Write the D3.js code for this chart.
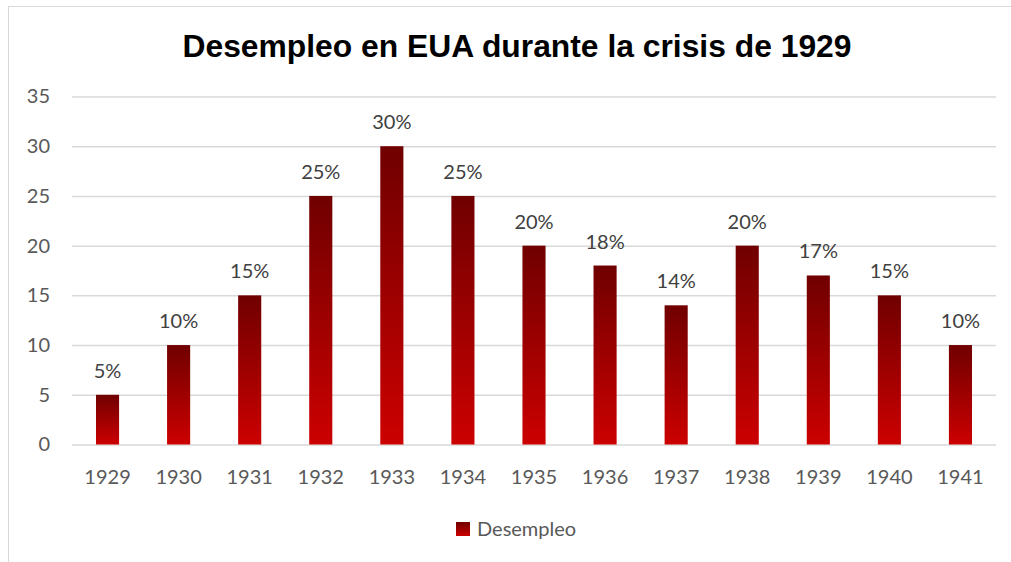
<!DOCTYPE html>
<html><head><meta charset="utf-8">
<script src="https://cdn.jsdelivr.net/npm/d3@7"></script>
<style>body{margin:0;background:#fff;}svg{display:block;}</style>
</head><body>
<script>
const years = ["1929","1930","1931","1932","1933","1934","1935","1936","1937","1938","1939","1940","1941"];
const unemployment = [5,10,15,25,30,25,20,18,14,20,17,15,10];
const yTicks = [0,5,10,15,20,25,30,35];
const seriesName = "Desempleo";
const title = "Desempleo en EUA durante la crisis de 1929";

const W = 1011, H = 562;
const svg = d3.select("body").append("svg").attr("width", W).attr("height", H);
const defs = svg.append("defs");
const grad = defs.append("linearGradient").attr("id","g").attr("x1",0).attr("y1",0).attr("x2",0).attr("y2",1);
grad.append("stop").attr("offset","0%").attr("stop-color","#700000");
grad.append("stop").attr("offset","100%").attr("stop-color","#cc0000");

svg.append("rect").attr("x",8.5).attr("y",6.5).attr("width",W+10).attr("height",H+10)
  .attr("fill","#fff").attr("stroke","#d9d9d9").attr("stroke-width",1);

svg.append("text").attr("x",517).attr("y",57).attr("text-anchor","middle")
  .attr("font-family","Liberation Sans, Arial, sans-serif").attr("font-weight","bold")
  .attr("font-size",31).attr("fill","#000").attr("textLength",669).attr("lengthAdjust","spacingAndGlyphs").text(title);

const x = d3.scaleBand().domain(years).range([72,996]).paddingInner(0.675).paddingOuter(0.3375);
const y = d3.scaleLinear().domain([0,35]).range([444.5,96.5]);
const font = "Lato, Calibri, sans-serif";
const fs = 20;

const yAxis = svg.append("g").attr("transform","translate(72,0)")
  .call(d3.axisLeft(y).tickValues(yTicks).tickSize(-924).tickPadding(22));
yAxis.select(".domain").remove();
yAxis.selectAll("line").attr("stroke","#d9d9d9").attr("stroke-width",1.5);
yAxis.selectAll("text").attr("font-family",font).attr("font-size",fs).attr("fill","#595959");

const xAxis = svg.append("g").attr("transform","translate(0,444.5)")
  .call(d3.axisBottom(x).tickSize(0));
xAxis.select(".domain").remove();
xAxis.selectAll("text").attr("dy",null).attr("y",39).attr("font-family",font).attr("font-size",fs).attr("fill","#595959");

svg.append("g").selectAll("rect").data(unemployment).join("rect")
  .attr("x",(d,i)=>x(years[i])).attr("width",x.bandwidth())
  .attr("y",d=>y(d)).attr("height",d=>y(0)-y(d)).attr("fill","url(#g)");

svg.append("g").selectAll("text").data(unemployment).join("text")
  .attr("x",(d,i)=>x(years[i])+x.bandwidth()/2).attr("y",d=>y(d)-17)
  .attr("text-anchor","middle").attr("font-family",font).attr("font-size",fs).attr("fill","#404040")
  .text(d=>d+"%");

const lg = svg.append("g");
lg.append("rect").attr("x",456).attr("y",522).attr("width",14).attr("height",14).attr("fill","url(#g)");
lg.append("text").attr("x",477).attr("y",536).attr("font-family",font).attr("font-size",fs).attr("fill","#595959").text(seriesName);
</script>
</body></html>
